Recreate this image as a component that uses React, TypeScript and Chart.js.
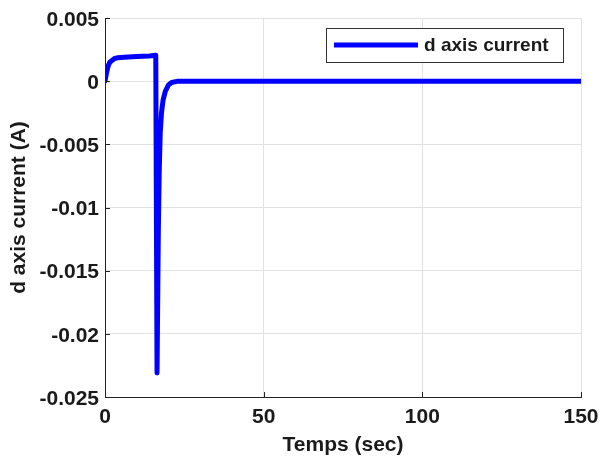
import React, { useEffect, useRef } from "react";
import { Chart, registerables } from "chart.js";

Chart.register(...registerables);

const timeSec = [0, 0.5, 1, 1.5, 2, 3, 4, 6, 10, 14, 16, 16.4, 16.8, 17.1, 17.4, 17.8, 18.3, 19, 20, 21, 23, 150];
const dCurrent = [0, 0.0007, 0.0012, 0.0015, 0.0016, 0.0018, 0.00185, 0.0019, 0.00195, 0.002, 0.00205, -0.0231, -0.012, -0.007, -0.0041, -0.0025, -0.0015, -0.0008, -0.0003, -0.0001, 0, 0];
const xTicks = [0, 50, 100, 150];
const yTicks = [-0.025, -0.02, -0.015, -0.01, -0.005, 0, 0.005];
const seriesLabel = "d axis current";

const FONT = "'Liberation Sans', Arial, sans-serif";

const matlabPlugin = {
  id: "matlabDecor",
  afterDraw(chart: any) {
    const { ctx, chartArea, scales } = chart;
    const { left, bottom } = chartArea;
    ctx.save();
    // inward ticks
    ctx.strokeStyle = "#222";
    ctx.lineWidth = 1;
    ctx.beginPath();
    xTicks.forEach((v) => {
      const px = Math.round(scales.x.getPixelForValue(v)) + 0.5;
      ctx.moveTo(px, bottom);
      ctx.lineTo(px, bottom - 5);
    });
    yTicks.forEach((v) => {
      const py = Math.round(scales.y.getPixelForValue(v)) + 0.5;
      ctx.moveTo(left, py);
      ctx.lineTo(left + 5, py);
    });
    ctx.stroke();
    // legend
    const bx = 326, by = 28, bw = 237, bh = 34;
    ctx.fillStyle = "#fff";
    ctx.fillRect(bx, by, bw, bh);
    ctx.strokeStyle = "#333";
    ctx.lineWidth = 1;
    ctx.strokeRect(bx + 0.5, by + 0.5, bw, bh);
    ctx.strokeStyle = "rgb(0,0,255)";
    ctx.lineWidth = 5;
    ctx.beginPath();
    ctx.moveTo(334, 45);
    ctx.lineTo(418, 45);
    ctx.stroke();
    ctx.fillStyle = "#1a1a1a";
    ctx.font = `bold 19px ${FONT}`;
    ctx.textBaseline = "middle";
    ctx.textAlign = "left";
    ctx.fillText(seriesLabel, 424, 46);
    ctx.restore();
  },
};

export default function App() {
  const ref = useRef<HTMLCanvasElement>(null);
  useEffect(() => {
    if (!ref.current) return;
    const points = timeSec.map((t, i) => ({ x: t, y: dCurrent[i] }));
    const chart = new Chart(ref.current, {
      type: "line",
      data: {
        datasets: [
          {
            label: seriesLabel,
            data: points,
            borderColor: "rgb(0,0,255)",
            borderWidth: 5,
            pointRadius: 0,
            tension: 0,
            fill: false,
            borderJoinStyle: "round",
            borderCapStyle: "round",
          },
        ],
      },
      options: {
        animation: false,
        responsive: false,
        maintainAspectRatio: false,
        layout: { padding: { top: 18, right: 20, left: 0, bottom: 0 } },
        plugins: { legend: { display: false }, tooltip: { enabled: false } },
        scales: {
          x: {
            type: "linear",
            min: 0,
            max: 150,
            afterBuildTicks: (s: any) => {
              s.ticks = xTicks.map((v) => ({ value: v }));
            },
            afterFit: (s: any) => {
              s.height = 67;
              s.paddingLeft = 0;
              s.paddingRight = 0;
            },
            ticks: {
              padding: 8,
              color: "#1a1a1a",
              font: { family: FONT, size: 21, weight: "bold" },
              maxRotation: 0,
            },
            grid: { color: "#e2e2e2", drawTicks: false, lineWidth: 1 },
            border: { color: "#222", width: 1 },
            title: {
              display: true,
              text: "Temps (sec)",
              color: "#1a1a1a",
              font: { family: FONT, size: 21, weight: "bold" },
              padding: { top: 6, bottom: 6 },
            },
          },
          y: {
            type: "linear",
            min: -0.025,
            max: 0.005,
            afterBuildTicks: (s: any) => {
              s.ticks = yTicks.map((v) => ({ value: v }));
            },
            afterFit: (s: any) => {
              s.width = 105;
              s.paddingTop = 0;
              s.paddingBottom = 0;
            },
            ticks: {
              padding: 6,
              labelOffset: 2,
              color: "#1a1a1a",
              font: { family: FONT, size: 21, weight: "bold" },
              callback: (v: any) => String(Number(Number(v).toFixed(3))),
            },
            grid: { color: "#e2e2e2", drawTicks: false, lineWidth: 1 },
            border: { color: "#222", width: 1 },
            title: {
              display: true,
              text: "d axis current (A)",
              color: "#1a1a1a",
              font: { family: FONT, size: 21, weight: "bold" },
              padding: { top: 7, bottom: 7 },
            },
          },
        },
      },
      plugins: [matlabPlugin],
    } as any);
    return () => chart.destroy();
  }, []);
  return (
    <div style={{ position: "fixed", left: 0, top: 0, width: 601, height: 464, background: "#fff" }}>
      <canvas ref={ref} width={601} height={464} style={{ width: 601, height: 464 }} />
    </div>
  );
}
